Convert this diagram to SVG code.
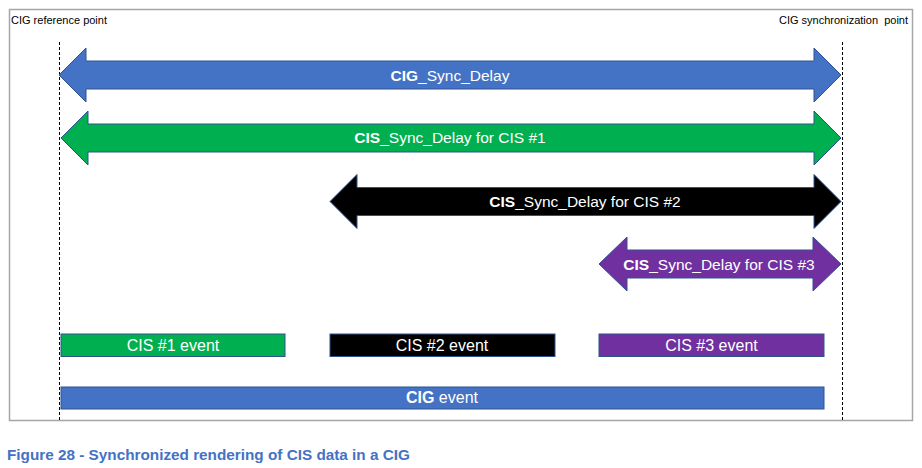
<svg xmlns="http://www.w3.org/2000/svg" width="922" height="468" viewBox="0 0 922 468">
<style>
  text { font-family: "Liberation Sans", Arial, sans-serif; white-space: pre; }
  .lbl { fill: #ffffff; font-size: 15.5px; text-anchor: middle; }
  .ev { fill: #ffffff; font-size: 16px; text-anchor: middle; }
  .b { font-weight: bold; }
  .pt { fill: #000000; font-size: 11px; }
  .shape { stroke: #2F528F; stroke-width: 1; }
  .guide { stroke: #000000; stroke-width: 1; stroke-dasharray: 3 2; fill: none; }
  .cap { fill: #4472C4; font-size: 15.3px; font-weight: bold; }
</style>
<rect x="0" y="0" width="922" height="468" fill="#ffffff"/>
<rect id="frame" x="9.5" y="9.5" width="903" height="411" fill="none" stroke="#A6A6A6" stroke-width="1.5"/>
<g id="frame-labels">
  <text class="pt" x="11" y="24">CIG reference point</text>
  <text class="pt" x="908" y="24" text-anchor="end">CIG synchronization  point</text>
</g>
<g id="connectors">
  <line class="guide" x1="59.5" y1="42" x2="59.5" y2="420"/>
  <line class="guide" x1="842.5" y1="42" x2="842.5" y2="420"/>
</g>
<g id="cig-sync-delay">
  <polygon class="shape" fill="#4472C4" points="59,75 86,48 86,61 814,61 814,48 841,75 814,102 814,89 86,89 86,102"/>
  <text class="lbl" x="450" y="81"><tspan class="b">CIG</tspan>_Sync_Delay</text>
</g>
<g id="cis1-sync-delay">
  <polygon class="shape" fill="#00B050" points="61,138 88,111 88,124 814,124 814,111 841,138 814,165 814,152 88,152 88,165"/>
  <text class="lbl" x="450" y="143"><tspan class="b">CIS</tspan>_Sync_Delay for CIS #1</text>
</g>
<g id="cis2-sync-delay">
  <polygon class="shape" fill="#000000" points="330,201.5 357,174.5 357,187.5 814,187.5 814,174.5 841,201.5 814,228.5 814,215.5 357,215.5 357,228.5"/>
  <text class="lbl" x="585" y="206.5"><tspan class="b">CIS</tspan>_Sync_Delay for CIS #2</text>
</g>
<g id="cis3-sync-delay">
  <polygon class="shape" fill="#7030A0" points="599,264 627,237 627,250 813,250 813,237 841,264 813,291 813,278 627,278 627,291"/>
  <text class="lbl" x="719" y="269.5"><tspan class="b">CIS</tspan>_Sync_Delay for CIS #3</text>
</g>
<g id="cis1-event">
  <rect class="shape" fill="#00B050" x="61" y="334" width="224" height="22.5"/>
  <text class="ev" x="173" y="351">CIS #1 event</text>
</g>
<g id="cis2-event">
  <rect class="shape" fill="#000000" x="330" y="334" width="225" height="22.5"/>
  <text class="ev" x="442" y="351">CIS #2 event</text>
</g>
<g id="cis3-event">
  <rect class="shape" fill="#7030A0" x="599" y="334" width="225" height="22.5"/>
  <text class="ev" x="711.5" y="351">CIS #3 event</text>
</g>
<g id="cig-event">
  <rect class="shape" fill="#4472C4" x="61" y="387" width="763" height="22"/>
  <text class="ev" x="442" y="403"><tspan class="b">CIG</tspan> event</text>
</g>
<text id="caption" class="cap" x="7" y="460">Figure 28 - Synchronized rendering of CIS data in a CIG</text>
</svg>
